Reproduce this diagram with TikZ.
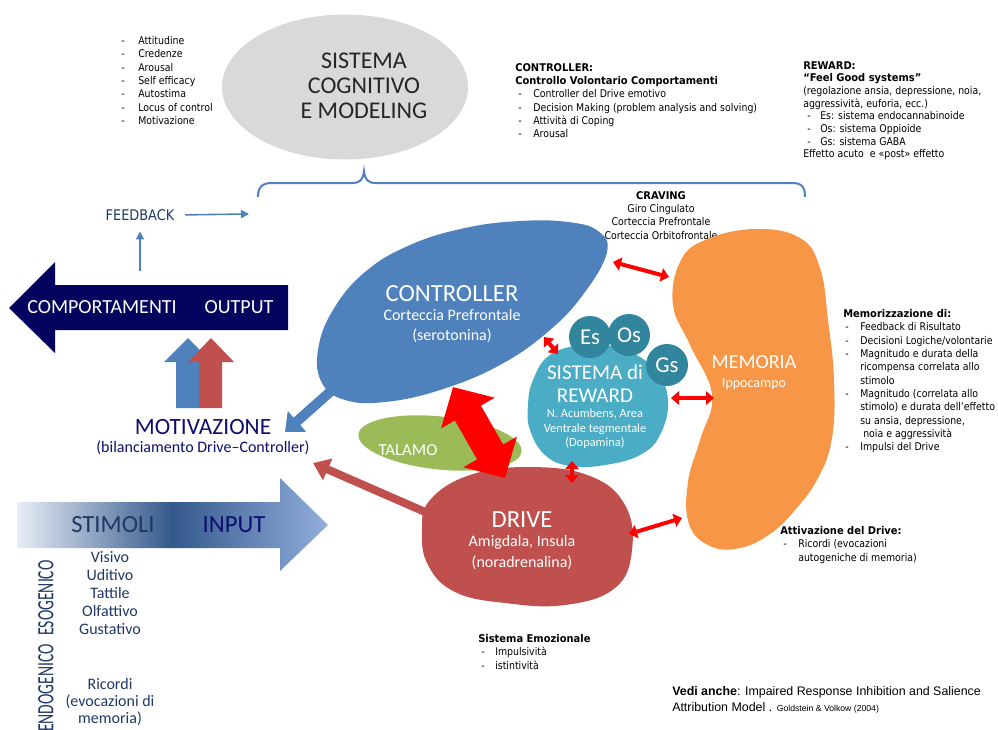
\documentclass[tikz,border=0pt]{standalone}
\usepackage{fontspec}
\setmainfont{Carlito}
\newfontfamily\tah[FakeStretch=0.88,BoldFeatures={FakeStretch=0.93}]{DejaVu Sans}
\newfontfamily\arialf{Liberation Sans}
\newfontfamily\narrowcal[FakeStretch=0.67]{Carlito}
\usetikzlibrary{arrows.meta,shapes.geometric}

\definecolor{ctrlblue}{HTML}{4F81BD}
\definecolor{drivered}{HTML}{C0504D}
\definecolor{memorange}{HTML}{F79646}
\definecolor{talgreen}{HTML}{9BBB59}
\definecolor{rewteal}{HTML}{4BACC6}
\definecolor{circteal}{HTML}{31859C}
\definecolor{cogrey}{HTML}{D9D9D9}
\definecolor{outnavy}{HTML}{04045E}
\definecolor{motnavy}{HTML}{0E0E6E}
\definecolor{slate}{HTML}{1F3864}
\definecolor{brightred}{HTML}{FF0000}
\definecolor{stimL}{HTML}{E8EDF6}
\definecolor{stimM}{HTML}{34598C}
\definecolor{stimR}{HTML}{93AEDB}

% list helpers: dash column and continuation indent
\newcommand\itm[2]{\hspace*{#1}\makebox[#2][l]{-}}
\newcommand\cont[1]{\hspace*{#1}}

\begin{document}
\begin{tikzpicture}[x=0.75pt,y=-0.75pt,
  small/.style={font=\tah\fontsize{8}{10}\selectfont, inner sep=0pt, align=left, anchor=north west, text=black},
  blobtitle/.style={font=\fontsize{18.5}{22}\selectfont, text=white, inner sep=0pt},
  blobsub/.style={font=\fontsize{12}{15}\selectfont, text=white, inner sep=0pt, align=center},
  reddbl/.style={draw=brightred, line width=3pt, {Triangle[length=6pt,width=10pt]}-{Triangle[length=6pt,width=10pt]}},
  thinblue/.style={draw=ctrlblue, line width=1.2pt, -{Triangle[length=6pt,width=6pt]}},
  stimtext/.style={font=\fontsize{12}{13.5}\selectfont, text=slate, inner sep=0pt, align=center},
  bubble/.style={circle, fill=circteal, minimum size=31.5pt, inner sep=0pt, text=white, font=\fontsize{17}{17}\selectfont}
]
\useasboundingbox (0,0) rectangle (998,729);

% ---------- cognitive system ----------
\node[ellipse, fill=cogrey, minimum width=184.5pt, minimum height=108.75pt, inner sep=0pt] (cog) at (345,87) {};
\node[font=\fontsize{18}{18.75}\selectfont, align=center, text=black!85, inner sep=0pt] (cogT) at (364,86) {SISTEMA\\COGNITIVO\\E MODELING};

% brace under the cognitive system
\draw[ctrlblue, line width=1.5pt] (258,197) .. controls (258,187) and (262,183) .. (272,183) -- (352,183)
  .. controls (360,183) and (363,180) .. (364,171) .. controls (365,180) and (368,183) .. (376,183)
  -- (792,183) .. controls (802,183) and (805,187) .. (805,197);
\coordinate (fbtarget) at (249,214);

% ---------- side texts ----------
\node[small] (attList) at (121,36) {\itm{0pt}{12.75pt}Attitudine\\\itm{0pt}{12.75pt}Credenze\\\itm{0pt}{12.75pt}Arousal\\\itm{0pt}{12.75pt}Self efficacy\\\itm{0pt}{12.75pt}Autostima\\\itm{0pt}{12.75pt}Locus of control\\\itm{0pt}{12.75pt}Motivazione};

\node[small] (ctrlText) at (515,63) {\textbf{CONTROLLER:}\\\textbf{Controllo Volontario Comportamenti}\\
 \itm{2.25pt}{11.25pt}Controller del Drive emotivo\\
 \itm{2.25pt}{11.25pt}Decision Making (problem analysis and solving)\\
 \itm{2.25pt}{11.25pt}Attività di Coping\\
 \itm{2.25pt}{11.25pt}Arousal};

\node[small, font=\tah\fontsize{8}{9.5}\selectfont] (rewText) at (803,61) {\textbf{REWARD:}\\\textbf{“Feel Good systems”}\\
 (regolazione ansia, depressione, noia,\\aggressività, euforia, ecc.)\\
 \itm{3pt}{9.75pt}Es: sistema endocannabinoide\\
 \itm{3pt}{9.75pt}Os: sistema Oppioide\\
 \itm{3pt}{9.75pt}Gs: sistema GABA\\
 Effetto acuto\ \ e «post» effetto};

\node[small, align=center, anchor=north] (cravText) at (661,191) {\textbf{CRAVING}\\Giro Cingulato\\Corteccia Prefrontale\\Corteccia Orbitofrontale};

\node[small] (memText) at (843,309) {\textbf{Memorizzazione di:}\\
 \itm{1.5pt}{11.25pt}Feedback di Risultato\\
 \itm{1.5pt}{11.25pt}Decisioni Logiche/volontarie\\
 \itm{1.5pt}{11.25pt}Magnitudo e durata della\\\cont{12.75pt}ricompensa correlata allo\\\cont{12.75pt}stimolo\\
 \itm{1.5pt}{11.25pt}Magnitudo (correlata allo\\\cont{12.75pt}stimolo) e durata dell’effetto\\\cont{12.75pt}su ansia, depressione,\\\cont{15pt}noia e aggressività\\
 \itm{1.5pt}{11.25pt}Impulsi del Drive};

\node[small] (attText) at (780,526) {\textbf{Attivazione del Drive:}\\
 \itm{2.25pt}{11.25pt}Ricordi (evocazioni\\\cont{13.5pt}autogeniche di memoria)};

\node[small] (emoText) at (478,634) {\textbf{Sistema Emozionale}\\
 \itm{2.25pt}{10.5pt}Impulsività\\
 \itm{2.25pt}{10.5pt}istintività};

\node[inner sep=0pt, anchor=north west, align=left, font=\arialf\fontsize{9.3}{12}\selectfont] (vedi) at (672,686)
 {\textbf{Vedi anche}: Impaired Response Inhibition and Salience\\Attribution Model\ . {\fontsize{6.5}{8}\selectfont Goldstein \& Volkow (2004)}};

% ---------- output arrow ----------
\fill[outnavy] (9,308) -- (55,262) -- (55,285) -- (288,285) -- (288,330) -- (55,330) -- (55,353) -- cycle;
\node[font=\fontsize{15}{17}\selectfont, text=white, inner sep=0pt] (outA) at (102,307) {COMPORTAMENTI};
\node[font=\fontsize{15}{17}\selectfont, text=white, inner sep=0pt] (outB) at (239,307) {OUTPUT};
\coordinate (outtop) at (140,271);

% feedback loop
\node[font=\tah\fontsize{11}{12}\selectfont, text=slate, inner sep=0pt] (fb) at (140,215) {FEEDBACK};
\draw[thinblue, shorten <=8pt] (fb.east) -- (fbtarget);
\draw[thinblue, shorten >=8pt] (outtop) -- (fb.south);

% drive/controller balance arrows
\fill[ctrlblue] (188,338) -- (212,362) -- (199,362) -- (199,408) -- (176,408) -- (176,362) -- (164,362) -- cycle;
\fill[drivered] (211,338) -- (234,362) -- (222,362) -- (222,408) -- (199,408) -- (199,362) -- (188,362) -- cycle;

\node[font=\fontsize{17.5}{19}\selectfont, text=motnavy, inner sep=0pt] (motT) at (203,427) {MOTIVAZIONE};
\node[font=\fontsize{12}{14}\selectfont, text=motnavy, inner sep=0pt] (motS) at (203,448) {(bilanciamento Drive–Controller)};

% ---------- input arrow ----------
\shade[left color=stimL, right color=stimR, middle color=stimM] (17,502) -- (280,502) -- (280,478) -- (328,525) -- (280,571) -- (280,548) -- (17,548) -- cycle;
\node[font=\fontsize{18.5}{20}\selectfont, text=slate, inner sep=0pt] (stimT) at (113,525) {STIMOLI};
\node[font=\fontsize{18.5}{20}\selectfont, text=motnavy, inner sep=0pt] (inT) at (234,525) {INPUT};

\node[stimtext, font=\fontsize{12}{13.5}\selectfont] (esoList) at (110,593) {Visivo\\Uditivo\\Tattile\\Olfattivo\\Gustativo};
\node[stimtext, font=\fontsize{12}{12.75}\selectfont] (endoList) at (110,702) {Ricordi\\(evocazioni di\\memoria)};
\node[rotate=90, font=\narrowcal\fontsize{17.5}{18}\selectfont, text=slate, inner sep=0pt] (eso) at (46,598) {ESOGENICO};
\node[rotate=90, font=\narrowcal\fontsize{17.5}{18}\selectfont, text=slate, inner sep=0pt] (endo) at (46,688) {ENDOGENICO};

% ---------- connectors leaving the blobs (drawn under them) ----------
\coordinate (ctrlFoot) at (348,376);
\coordinate (motIn) at (285,432);
\coordinate (driveFoot) at (448,522);
\coordinate (motIn2) at (313,463);
\draw[ctrlblue, line width=7.5pt, -{Triangle[length=12pt,width=20pt]}] (ctrlFoot) -- (motIn);
\draw[drivered, line width=6pt, -{Triangle[length=12pt,width=17pt]}] (driveFoot) -- (motIn2);

% ---------- brain areas ----------
\fill[ctrlblue] plot[smooth cycle, tension=0.7] coordinates {(607,252) (598,231) (568,222) (520,221) (465,228) (410,245) (365,272) (333,310) (318,350) (322,383) (345,400) (385,402) (440,390) (500,365) (550,330) (585,292)};
\node[blobtitle] (ctrlT) at (452,294) {CONTROLLER};
\node[blobsub] (ctrlS) at (452,326) {Corteccia Prefrontale\\(serotonina)};

\node[ellipse, fill=talgreen, minimum width=123pt, minimum height=39.75pt, rotate=-6, inner sep=0pt] (tal) at (440,443) {};
\node[text=white, font=\fontsize{12.6}{14}\selectfont, inner sep=0pt] (talT) at (408,450) {TALAMO};

\fill[memorange] plot[smooth cycle, tension=0.7] coordinates {(705,240) (755,229) (800,238) (820,268) (828,320) (834,380) (832,438) (818,478) (795,510) (770,534) (740,548) (710,546) (689,524) (688,482) (700,440) (712,395) (690,345) (673,305) (680,262)};
\node[blobtitle, font=\fontsize{15}{18}\selectfont] (memT) at (754,362) {MEMORIA};
\node[blobsub, font=\fontsize{10.5}{13}\selectfont] (memS) at (754,384) {Ippocampo};

\fill[drivered] plot[smooth cycle, tension=0.7] coordinates {(430,500) (470,475) (530,467) (590,476) (625,505) (632,550) (615,588) (565,605) (505,603) (455,592) (428,565) (422,530)};
\node[blobtitle] (drvT) at (522,520) {DRIVE};
\node[blobsub, font=\fontsize{12}{15.75}\selectfont] (drvS) at (522,553) {Amigdala, Insula\\(noradrenalina)};

\fill[rewteal] plot[smooth cycle, tension=0.7] coordinates {(533,380) (550,355) (585,345) (625,350) (655,370) (668,400) (660,435) (640,455) (605,465) (570,466) (545,455) (530,430) (528,405)};
\node[bubble] (es) at (590,337) {Es};
\node[bubble] (os) at (629,335) {Os};
\node[bubble] (gs) at (667,365) {Gs};
\node[blobtitle, font=\fontsize{15.8}{17.25}\selectfont, align=center] (rewT) at (595,384) {SISTEMA di\\REWARD};
\node[blobsub, font=\fontsize{9.3}{10.9}\selectfont] (rewS) at (595,429) {N. Acumbens, Area\\Ventrale tegmentale\\(Dopamina)};

% ---------- exchanges between areas ----------
\coordinate (thA) at (453,387);
\coordinate (thB) at (505,478);
\draw[brightred, line width=22.5pt, {Triangle[length=22.5pt,width=45pt]}-{Triangle[length=22.5pt,width=45pt]}] (thA) -- (thB);

\coordinate (cmA) at (613,262);  \coordinate (cmB) at (669,277);
\coordinate (crA) at (544,337);  \coordinate (crB) at (558,354);
\coordinate (rmA) at (671,398);  \coordinate (rmB) at (714,398);
\coordinate (rdA) at (572,461);  \coordinate (rdB) at (572,483);
\coordinate (dmA) at (629,534);  \coordinate (dmB) at (682,518);
\draw[reddbl] (cmA) -- (cmB);
\draw[reddbl] (crA) -- (crB);
\draw[reddbl] (rmA) -- (rmB);
\draw[reddbl] (rdA) -- (rdB);
\draw[reddbl] (dmA) -- (dmB);
\end{tikzpicture}
\end{document}
